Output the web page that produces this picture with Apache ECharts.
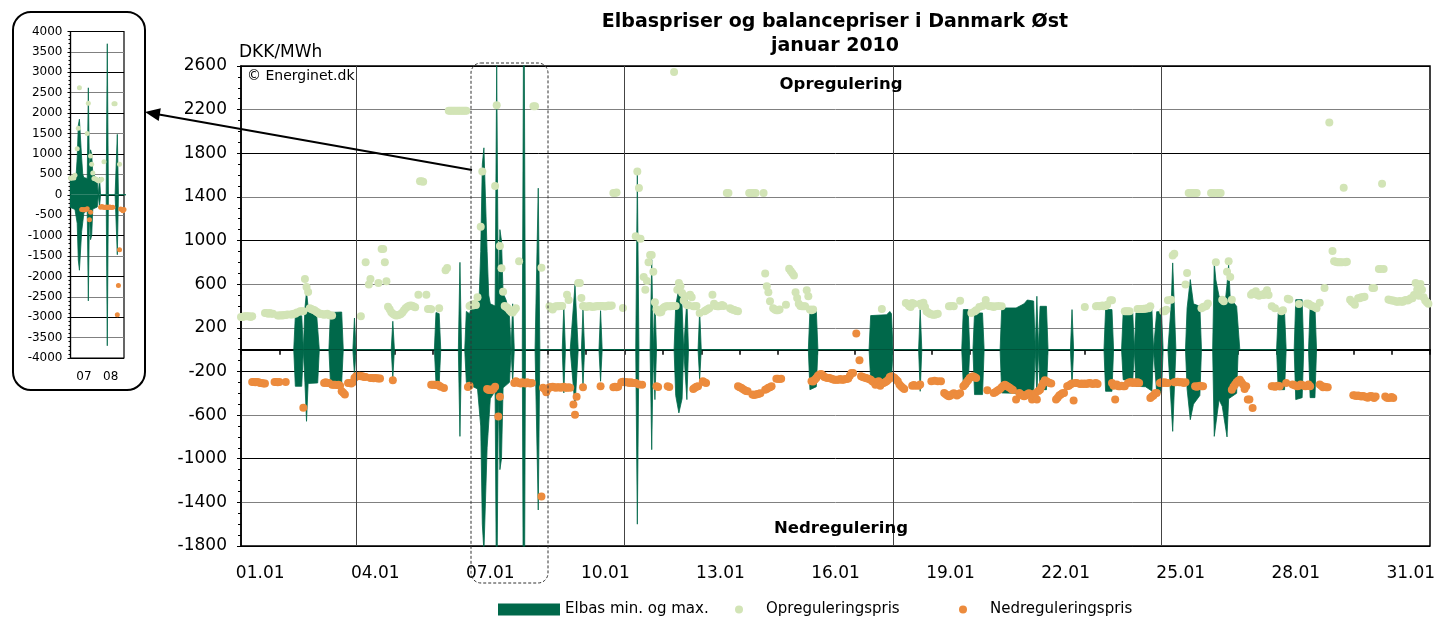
<!DOCTYPE html>
<html><head><meta charset="utf-8">
<script src="https://cdn.jsdelivr.net/npm/echarts@6/dist/echarts.min.js"></script>
<style>html,body{margin:0;padding:0;background:#fff}#c{width:1437px;height:624px}</style>
</head><body><div id="c"></div>
<script>
// ---- data (x = hour of January 2010, 0..744) ----
const dayLabels = ['01.01','02.01','03.01','04.01','05.01','06.01','07.01','08.01','09.01','10.01','11.01','12.01','13.01','14.01','15.01','16.01','17.01','18.01','19.01','20.01','21.01','22.01','23.01','24.01','25.01','26.01','27.01','28.01','29.01','30.01','31.01'];
const insetDayLabels = ['07','08'];
const weekStartHours = [72,240,408,576];

const elbasMax = [
[33,0],[34,310],[38,310],[39,0],[40,380],[41,535],[42,390],[47,385],[48,380],[49,0],
[55,0],[56,340],[63,345],[64,0],[70,0],[71,290],[72,0],[94,0],[95,260],[96,0],
[121,0],[122,340],[124,330],[125,0],[136,0],[137,800],[138,0],
[140,0],[141,350],[143,330],[144,380],[146,450],[149,460],[150,900],[151,1700],[152,1850],[153,1850],[154,900],[155,500],[156,420],[159,400],[160,2620],[161,500],[162,1100],[163,1000],[164,520],[166,450],[168,300],[169,0],[170,420],[171,0],
[176,0],[177,3700],[178,0],[184,0],[186,1480],[187,0],
[201,0],[202,397],[203,0],[206,0],[209,596],[211,0],[213,0],[214,367],[215,0],[224,0],[225,357],[226,0],
[247,0],[248,1620],[249,0],[256,0],[257,825],[258,0],[259,458],[260,0],
[271,0],[272,400],[274,565],[276,400],[277,0],[279,458],[280,0],[286,0],[287,357],[288,0],
[355,0],[356,357],[360,357],[361,0],
[393,0],[394,312],[404,320],[406,350],[407,330],[408,0],[424,0],[425,367],[426,0],
[451,0],[452,367],[455,367],[456,0],[458,0],[459,336],[464,336],[465,0],
[475,0],[476,382],[485,382],[490,420],[492,455],[496,445],[497,0],[498,489],[499,0],[500,397],[504,397],[505,0],
[519,0],[520,367],[521,0],[540,0],[541,367],[545,367],[546,0],
[551,0],[552,336],[558,336],[559,0],[560,336],[566,350],[570,367],[571,0],[572,0],[573,348],[576,348],[577,0],
[580,0],[582,400],[583,795],[585,0],[591,0],[592,380],[594,642],[596,420],[600,397],[601,0],
[608,0],[609,795],[610,640],[612,490],[616,458],[617,600],[618,779],[619,470],[623,397],[624,380],[625,0],
[648,0],[649,336],[653,336],[654,0],[659,0],[660,458],[664,458],[665,0],[668,0],[669,397],[672,397],[673,0]
];

const elbasMin = [
[33,0],[34,-336],[38,-336],[39,0],[40,-303],[41,-657],[42,-310],[48,-305],[49,0],
[55,0],[56,-305],[63,-305],[64,0],[70,0],[71,-230],[72,0],[94,0],[95,-260],[96,0],
[121,0],[122,-305],[124,-320],[125,0],[136,0],[137,-795],[138,0],
[140,0],[141,-300],[143,-300],[144,-330],[148,-360],[150,-700],[151,-1600],[152,-1850],[153,-1850],[154,-900],[156,-450],[159,-380],[160,-2600],[161,-400],[162,-1100],[163,-1000],[164,-350],[168,-300],[169,0],[170,-300],[171,0],
[176,0],[177,-3700],[178,0],[184,0],[186,-1470],[187,0],
[201,0],[202,-397],[203,0],[206,0],[209,-520],[211,0],[213,0],[214,-336],[215,0],[224,0],[225,-290],[226,0],
[247,0],[248,-1600],[249,0],[256,0],[257,-917],[258,0],[259,-458],[260,0],
[271,0],[272,-420],[274,-580],[276,-450],[277,0],[279,-458],[280,0],[286,0],[287,-275],[288,0],
[355,0],[356,-367],[360,-340],[361,0],
[393,0],[394,-275],[400,-290],[407,-275],[408,0],[424,0],[425,-382],[426,0],
[451,0],[452,-336],[455,-336],[456,0],[458,0],[459,-412],[464,-412],[465,0],
[475,0],[476,-397],[486,-400],[490,-420],[496,-410],[497,0],[498,-430],[499,0],[500,-367],[504,-367],[505,0],
[519,0],[520,-336],[521,0],[540,0],[541,-382],[545,-382],[546,0],
[551,0],[552,-275],[558,-290],[559,0],[560,-336],[566,-340],[570,-380],[571,0],[572,0],[573,-397],[576,-397],[577,0],
[580,0],[583,-749],[585,0],[591,0],[592,-360],[594,-642],[596,-500],[600,-420],[601,0],
[608,0],[609,-795],[612,-460],[614,-520],[617,-800],[618,-450],[623,-400],[624,0],
[648,0],[649,-367],[653,-367],[654,0],[659,0],[660,-458],[664,-440],[665,0],[668,0],[669,-440],[672,-440],[673,0]
];

const opregulering = [
[0,300],[1,300],[2,305],[3,305],[4,305],[5,305],[6,300],[7,305],
[15,336],[16,336],[17,330],[18,336],[19,330],[20,330],
[23,312],[24,312],[25,315],[26,312],[27,318],[28,318],[29,321],
[31,321],[32,321],[33,330],[34,330],[35,340],[37,351],[38,351],[39,351],
[40,648],[41,575],[42,529],[43,380],[44,373],[45,365],[46,360],[47,350],
[48,340],[49,330],[50,330],[51,325],[52,320],[53,325],[54,330],[55,318],[56,312],[57,312],
[75,305],[78,800],[80,596],[81,648],[86,611],[88,923],[89,923],[90,800],[91,626],
[92,394],[93,370],[94,342],[95,330],[96,320],[97,312],[98,315],[99,320],[100,327],[101,340],[102,360],[103,380],[104,390],[105,400],[106,405],[107,403],[108,395],[109,388],
[111,504],[112,1543],[113,1543],[114,1540],[116,504],[117,373],[118,373],[119,370],[124,379],
[128,727],[129,748],
[130,2190],[131,2190],[132,2190],[133,2190],[134,2190],[135,2190],[136,2190],[137,2190],[138,2190],[139,2190],[140,2190],[141,2190],
[143,400],[144,410],[145,405],[146,420],[147,410],[148,480],
[150,1126],[151,1632],[152,2620],[159,1500],[160,2240],[162,950],[163,745],[164,530],
[165,400],[166,390],[167,380],[168,360],[169,345],[170,340],[171,360],[172,380],[174,810],
[183,2230],[184,2230],[188,750],
[193,397],[194,380],[195,367],[196,390],[197,397],[198,397],[199,397],[200,400],[201,400],
[204,504],[205,455],[211,611],[212,611],[213,473],
[214,400],[215,397],[216,390],[217,395],[218,400],[219,395],[220,390],[221,395],[222,395],[223,400],[224,397],[225,400],[226,400],[227,397],[228,395],[229,400],[230,405],[231,400],[232,405],
[233,1436],[234,1436],[235,1440],[239,382],
[247,1039],[248,1634],[249,1482],[250,1017],
[252,666],[253,550],[254,629],[255,800],[256,868],[257,868],[258,715],
[259,434],[260,370],[261,350],[262,340],[263,345],[264,380],[265,390],[266,397],[267,397],[268,397],[269,397],[270,400],[271,2545],
[272,400],[273,550],[274,611],[275,580],[276,520],[277,450],[278,489],[279,410],[280,406],[281,504],[282,480],[283,397],[284,397],[285,400],[287,336],
[290,351],[291,360],[292,370],[293,380],[295,504],[296,420],[297,400],[298,397],[299,397],[300,400],[301,410],[302,400],
[304,1436],[305,1436],[306,380],[307,370],[308,365],[309,360],[310,355],[311,351],
[318,1436],[319,1436],[320,1436],[321,1436],[322,1436],[327,1436],
[328,697],[329,580],[330,525],[331,443],[333,380],[334,367],[335,360],[336,360],[337,367],
[341,412],[343,742],[344,720],[345,700],[346,680],[347,525],[348,473],[349,420],[350,400],[351,397],[352,397],[353,397],[354,544],[355,489],[356,367],[357,360],[358,367],
[401,373],[416,428],[417,420],[418,400],[419,390],[420,428],[421,420],
[425,420],[426,400],[427,430],[428,390],[429,350],[430,340],[431,330],[432,325],[433,320],[434,320],[435,325],[436,330],
[443,397],[444,397],[445,400],[446,397],[450,449],[457,336],[459,350],[460,360],[462,390],[464,400],[466,455],[468,400],[469,397],[470,397],[471,390],[472,397],[474,400],[476,397],
[528,391],[535,397],[536,400],[537,397],[538,400],[539,405],[540,397],[541,400],[542,412],[544,452],[545,452],
[553,351],[554,351],[555,351],[556,351],[561,373],[562,373],[563,373],[564,373],[565,375],[566,375],[567,380],[568,380],[569,397],
[577,351],[578,351],[579,366],[580,452],[582,458],[583,862],[584,880],
[591,596],[592,703],[593,1436],[594,1436],[595,1436],[596,1436],[597,1436],[598,1436],
[601,379],[602,390],[603,395],[604,400],[605,424],
[607,1436],[608,1436],[609,1436],[611,1436],[612,1436],[613,1436],
[610,800],[614,458],[615,443],[617,715],[618,810],[619,666],[620,458],
[632,504],[633,520],[634,510],[635,535],[636,500],[637,495],[638,500],[639,505],[640,500],[641,520],[642,544],[643,500],
[645,397],[647,379],[651,351],[652,360],[655,467],[656,460],
[662,418],[667,424],[668,420],[669,410],[670,400],[671,395],[672,390],[673,379],
[675,430],[678,565],[681,2081],[683,904],[684,810],[685,805],[686,800],[687,800],[688,800],[689,800],[690,1485],[691,800],[692,805],
[694,458],[695,440],[696,427],[697,412],[699,470],[700,470],[701,480],[702,480],[703,485],
[708,565],[709,565],[712,740],[713,740],[714,1521],[715,740],
[718,460],[719,455],[720,450],[721,450],[722,445],[723,440],[724,440],[725,445],[726,440],[727,440],[728,450],[729,455],[730,450],[731,460],[732,470],[733,470],[734,500],[735,611],[736,550],[737,493],[738,602],[739,550],[740,480],[741,450],[742,434],[743,420]
];

const nedregulering = [
[7,-296],[8,-296],[9,-300],[10,-296],[11,-300],[12,-305],[13,-305],[14,-310],[15,-310],
[21,-296],[22,-296],[23,-300],[24,-296],[28,-296],[39,-532],
[52,-305],[53,-300],[54,-305],[55,-305],[57,-321],[58,-321],[59,-321],[60,-325],[61,-321],[62,-330],
[63,-382],[64,-395],[65,-412],[67,-305],[68,-305],[69,-310],[70,-300],[71,-260],[72,-244],[73,-244],[74,-240],[75,-244],[76,-244],[77,-250],[78,-250],
[81,-260],[82,-260],[83,-262],[84,-260],[85,-262],[86,-265],[87,-265],[95,-281],
[119,-321],[120,-321],[121,-321],[122,-325],[123,-321],[124,-330],[125,-340],[127,-351],
[142,-342],[143,-331],[154,-360],[155,-370],[156,-365],[157,-369],[158,-360],[159,-340],[161,-614],[162,-431],
[171,-305],[172,-290],[173,-300],[174,-305],[175,-310],[176,-300],[177,-305],[178,-310],[179,-300],[180,-305],[181,-310],[182,-305],
[186,-2939],[187,-2221],[188,-1347],
[189,-350],[190,-360],[191,-391],[192,-360],[193,-345],[194,-345],[195,-340],[196,-345],[197,-350],[198,-345],[199,-345],[200,-350],[201,-345],[202,-340],[203,-350],[204,-350],[205,-345],[206,-350],
[208,-504],[209,-596],[210,-431],[214,-345],[225,-336],
[233,-345],[234,-340],[235,-345],[236,-340],
[238,-299],[239,-295],[240,-300],[241,-300],[242,-299],[243,-305],[244,-300],[245,-305],[246,-305],[247,-305],
[249,-320],[251,-321],[260,-336],[261,-342],[267,-336],[268,-342],
[283,-360],[284,-350],[285,-340],[286,-336],[289,-290],[290,-300],[291,-305],
[311,-336],[312,-345],[313,-350],[314,-360],[315,-370],[316,-380],[317,-382],
[320,-412],[321,-415],[322,-412],[323,-410],[324,-405],[325,-400],
[328,-367],[329,-360],[330,-350],[331,-345],[332,-336],[335,-266],[336,-266],[337,-270],[338,-266],
[357,-290],[358,-293],[359,-275],[360,-260],[361,-240],[362,-229],[363,-223],[364,-235],[365,-250],[366,-255],[367,-260],[368,-260],[369,-265],[370,-270],[371,-275],[372,-275],[373,-275],[374,-275],[375,-270],[376,-275],[377,-275],[378,-270],[379,-270],[380,-265],[381,-240],[382,-214],[383,-214],
[385,147],[387,-98],
[388,-244],[389,-250],[390,-255],[391,-260],[392,-265],[393,-270],[394,-275],[395,-290],[396,-300],[397,-321],[398,-300],[399,-290],
[400,-330],[401,-310],[402,-305],[403,-300],[404,-290],[405,-275],[406,-250],[407,-244],[408,-250],[409,-260],[410,-275],[411,-290],[412,-320],[413,-336],[414,-350],[415,-360],
[420,-330],[421,-325],[422,-330],[424,-330],[425,-320],[432,-290],[434,-285],[436,-290],[438,-290],
[440,-397],[441,-410],[442,-420],[443,-428],[444,-420],[445,-410],[446,-400],[447,-410],[448,-420],[449,-410],[450,-400],
[452,-336],[453,-320],[454,-300],[455,-280],[456,-260],[457,-250],[458,-244],[459,-250],[460,-260],[467,-373],
[471,-397],[472,-390],[473,-380],[474,-370],[475,-360],[476,-345],[477,-330],[478,-321],[479,-330],[480,-340],[481,-350],[482,-360],[483,-370],[485,-458],
[487,-397],[488,-410],[489,-420],[490,-428],[491,-420],[492,-410],[493,-400],[494,-410],[495,-458],[496,-420],[497,-400],[498,-458],[499,-380],
[500,-367],[501,-336],[502,-305],[503,-281],[504,-290],[505,-300],[506,-305],[507,-310],
[510,-458],[511,-440],[512,-420],[513,-412],[514,-400],[515,-397],
[517,-336],[518,-330],[519,-320],[520,-310],[521,-467],[522,-305],[523,-305],
[525,-314],[526,-310],[527,-314],[528,-310],[529,-314],[530,-310],[531,-305],[532,-310],[533,-314],[534,-310],[535,-305],[536,-314],
[545,-305],[546,-330],[547,-458],[548,-320],[549,-336],[550,-336],[551,-330],[552,-336],[553,-336],
[555,-305],[556,-300],[557,-300],[558,-305],[559,-300],[560,-305],[561,-300],[562,-305],
[569,-443],[570,-430],[571,-420],[572,-400],[573,-397],[575,-305],[576,-300],[577,-305],[578,-300],[579,-305],[580,-305],
[584,-299],[585,-300],[586,-295],[587,-300],[588,-299],[589,-300],[590,-305],[591,-300],
[597,-336],[598,-340],[599,-336],[600,-330],[601,-336],[602,-336],
[620,-367],[621,-340],[622,-320],[623,-300],[624,-285],[625,-275],[626,-300],[627,-320],[628,-360],[629,-336],[630,-458],[631,-458],[633,-535],
[645,-336],[646,-336],[647,-340],[648,-336],[649,-330],[650,-336],[654,-305],
[658,-320],[659,-325],[660,-330],[661,-336],[662,-330],[663,-320],[664,-325],[665,-330],[666,-336],[667,-330],[668,-320],[669,-336],
[675,-320],[676,-330],[677,-345],[678,-340],[679,-345],[680,-345],
[696,-419],[697,-420],[698,-425],[699,-420],[700,-425],[701,-430],[702,-425],[703,-430],[704,-435],[705,-440],[706,-430],[707,-425],[708,-430],[709,-443],[710,-430],[716,-430],[717,-440],[718,-443],[719,-440],[720,-435],[721,-443]
];

// ---- chart ----
const F = 'DejaVu Sans';
const GREEN = '#00684a', LIGHT = '#d2e4b6', ORANGE = '#ec8b3d';
const SERIES_AREA = 'Elbas min. og max.', SERIES_OP = 'Opreguleringspris', SERIES_NED = 'Nedreguleringspris';
const mainGridColors = ['#000','#808080','#000','#808080','#000','#808080','#808080','#000','#808080','#000','#808080','#000'];
const plain = v => String(v);

function areaSeries(name, data, xi, yi) {
  return { name, type:'line', data, xAxisIndex:xi, yAxisIndex:yi, symbol:'none', z:2,
    lineStyle:{ width:0.8, color:GREEN }, itemStyle:{ color:GREEN },
    areaStyle:{ color:GREEN, opacity:1 }, silent:true, clip:true };
}
function dotSeries(name, data, color, size, xi, yi) {
  return { name, type:'scatter', data, xAxisIndex:xi, yAxisIndex:yi, symbol:'circle', symbolSize:size,
    itemStyle:{ color, opacity:1 }, z:3, silent:true, clip:true };
}

const chart = echarts.init(document.getElementById('c'));
chart.setOption({
  animation:false,
  backgroundColor:'#fff',
  textStyle:{ fontFamily:F, color:'#000' },
  title:{ text:'Elbaspriser og balancepriser i Danmark Øst', subtext:'januar 2010',
    left:830, top:8, textAlign:'center', itemGap:5,
    textStyle:{ fontFamily:F, fontSize:19, fontWeight:'bold', color:'#000' },
    subtextStyle:{ fontFamily:F, fontSize:19, fontWeight:'bold', color:'#000' } },
  legend:[
    { data:[{ name:SERIES_AREA, icon:'rect', itemStyle:{ color:GREEN, borderWidth:0 } }], left:493, top:597,
      itemWidth:62, itemHeight:12, textStyle:{ fontFamily:F, fontSize:15, color:'#000' }, selectedMode:false },
    { data:[{ name:SERIES_OP, icon:'circle', itemStyle:{ color:LIGHT, borderWidth:0 } }], left:730, top:597,
      itemWidth:32, itemHeight:8, itemGap:0, textStyle:{ fontFamily:F, fontSize:15, color:'#000', padding:[0,0,0,6] }, selectedMode:false },
    { data:[{ name:SERIES_NED, icon:'circle', itemStyle:{ color:ORANGE, borderWidth:0 } }], left:954, top:597,
      itemWidth:32, itemHeight:8, itemGap:0, textStyle:{ fontFamily:F, fontSize:15, color:'#000', padding:[0,0,0,6] }, selectedMode:false }
  ],
  grid:[
    { left:241, top:66, width:1189, height:480, show:true, borderColor:'#000', borderWidth:1.5, outerBoundsMode:'none', containLabel:false },
    { left:70.5, top:31.5, width:53.5, height:326.5, show:true, borderColor:'#000', borderWidth:1.2, outerBoundsMode:'none', containLabel:false }
  ],
  xAxis:[
    { type:'value', gridIndex:0, min:0, max:744, interval:24, position:'bottom',
      axisLine:{ show:true, onZero:true, lineStyle:{ color:'#000', width:2 } },
      axisTick:{ show:true, length:5, inside:false, lineStyle:{ color:'#000', width:1.5 } },
      axisLabel:{ show:false }, splitLine:{ show:false } },
    { type:'category', gridIndex:0, data:dayLabels, position:'bottom', boundaryGap:true,
      axisLine:{ show:false, onZero:false }, axisTick:{ show:false },
      axisLabel:{ interval:2, fontFamily:F, fontSize:17, color:'#000', margin:19 }, splitLine:{ show:false } },
    { type:'value', gridIndex:1, min:144, max:192, interval:24, position:'bottom',
      axisLine:{ show:false, onZero:false }, axisTick:{ show:false }, axisLabel:{ show:false }, splitLine:{ show:false } },
    { type:'category', gridIndex:1, data:insetDayLabels, position:'bottom', boundaryGap:true,
      axisLine:{ show:false, onZero:false }, axisTick:{ show:false },
      axisLabel:{ interval:0, fontFamily:F, fontSize:12, color:'#000', margin:13 }, splitLine:{ show:false } }
  ],
  yAxis:[
    { type:'value', gridIndex:0, min:-1800, max:2600, interval:400, position:'left',
      name:'DKK/MWh', nameLocation:'end', nameGap:13,
      nameTextStyle:{ fontFamily:F, fontSize:17, color:'#000', align:'left', verticalAlign:'middle', padding:[0,0,0,-2] },
      axisLine:{ show:true, onZero:false, lineStyle:{ color:'#000', width:1.5 } },
      axisTick:{ show:true, length:4, lineStyle:{ color:'#000' } },
      minorTick:{ show:true, splitNumber:4, length:3, lineStyle:{ color:'#000' } },
      axisLabel:{ fontFamily:F, fontSize:17, color:'#000', margin:14, formatter:plain },
      splitLine:{ show:true, lineStyle:{ color:mainGridColors, width:1 } } },
    { type:'value', gridIndex:1, min:-4000, max:4000, interval:500, position:'left',
      axisLine:{ show:true, onZero:false, lineStyle:{ color:'#000', width:1.2 } },
      axisTick:{ show:true, length:3, lineStyle:{ color:'#000' } },
      minorTick:{ show:true, splitNumber:5, length:2, lineStyle:{ color:'#000' } },
      axisLabel:{ fontFamily:F, fontSize:12, color:'#000', margin:8, formatter:plain },
      splitLine:{ show:true, lineStyle:{ color:['#000','#808080'], width:1 } } }
  ],
  series:[
    { name:'weeks', type:'line', data:[], xAxisIndex:0, yAxisIndex:0, z:1, silent:true,
      markLine:{ silent:true, symbol:['none','none'], label:{ show:false },
        lineStyle:{ color:'#444', width:1, type:'solid' },
        data: weekStartHours.map(h => ({ xAxis:h })) } },
    areaSeries(SERIES_AREA, elbasMax, 0, 0),
    areaSeries(SERIES_AREA, elbasMin, 0, 0),
    dotSeries(SERIES_OP, opregulering, LIGHT, 8, 0, 0),
    dotSeries(SERIES_NED, nedregulering, ORANGE, 8, 0, 0),
    areaSeries(SERIES_AREA, elbasMax, 2, 1),
    areaSeries(SERIES_AREA, elbasMin, 2, 1),
    dotSeries(SERIES_OP, opregulering, LIGHT, 5, 2, 1),
    dotSeries(SERIES_NED, nedregulering, ORANGE, 5, 2, 1)
  ],
  graphic:[
    { type:'rect', z:100, shape:{ x:13, y:12, width:132, height:378, r:18 }, style:{ fill:'none', stroke:'#000', lineWidth:2 } },
    { type:'rect', z:100, shape:{ x:471, y:63, width:77, height:520, r:10 }, style:{ fill:'none', stroke:'#333', lineWidth:1, lineDash:[3,2] } },
    { type:'line', z:100, shape:{ x1:472, y1:170, x2:159, y2:114.6 }, style:{ stroke:'#000', lineWidth:2 } },
    { type:'polygon', z:100, shape:{ points:[[145,112],[160.8,108.2],[158.7,121]] }, style:{ fill:'#000' } },
    { type:'text', z:100, x:247, y:76, style:{ text:'© Energinet.dk', font:'14px "DejaVu Sans"', fill:'#000', textAlign:'left', textVerticalAlign:'middle' } },
    { type:'text', z:100, x:841, y:85, style:{ text:'Opregulering', font:'bold 16.5px "DejaVu Sans"', fill:'#000', textAlign:'center', textVerticalAlign:'middle' } },
    { type:'text', z:100, x:841, y:529, style:{ text:'Nedregulering', font:'bold 16.5px "DejaVu Sans"', fill:'#000', textAlign:'center', textVerticalAlign:'middle' } }
  ]
});
</script>
</body></html>
